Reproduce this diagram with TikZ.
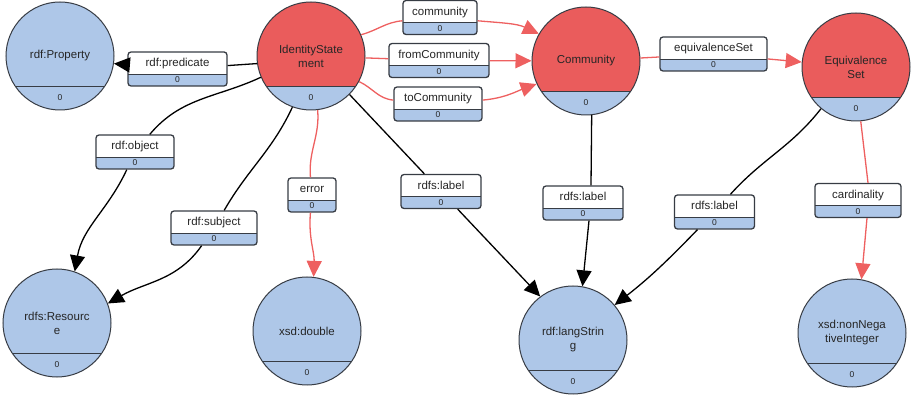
\documentclass[tikz,border=0pt]{standalone}
\usepackage{fontspec}
\setmainfont{Liberation Sans}
\usetikzlibrary{arrows.meta}
\definecolor{classred}{RGB}{234,92,92}
\definecolor{countblue}{RGB}{174,199,232}
\definecolor{linkred}{RGB}{238,96,96}
\definecolor{rim}{RGB}{55,60,68}

\tikzset{
  cls/.style={circle, draw=rim, line width=1pt, fill=#1, minimum size=108pt, inner sep=0pt,
    align=center, text=black!85, font=\fontsize{11.5}{14}\selectfont,
    path picture={
      \fill[countblue, sharp corners] ([shift={(-60pt,-30pt)}]path picture bounding box.center) rectangle ([shift={(60pt,-60pt)}]path picture bounding box.center);
      \draw[rim, line width=0.6pt] ([shift={(-60pt,-30pt)}]path picture bounding box.center) -- ([shift={(60pt,-30pt)}]path picture bounding box.center);
      \node[font=\fontsize{8.5}{10}\selectfont] at ([yshift=-42pt]path picture bounding box.center) {0};}},
  cls/.default=countblue,
  prop/.style={rectangle, rounded corners=3pt, draw=rim, line width=1.3pt, fill=white,
    inner xsep=0pt, inner ysep=0pt, text height=15pt, text depth=19pt, minimum width=#1,
    text=black!85, font=\fontsize{11.5}{14}\selectfont,
    path picture={
      \fill[countblue, sharp corners] (path picture bounding box.south west) rectangle ([yshift=12pt]path picture bounding box.south east);
      \draw[rim, line width=0.8pt] ([yshift=12pt]path picture bounding box.south west) -- ([yshift=12pt]path picture bounding box.south east);
      \node[text height=, text depth=, inner sep=0pt, minimum width=0pt, font=\fontsize{8.5}{10}\selectfont] at ([yshift=6pt]path picture bounding box.south) {0};}},
  link/.style={draw=black, line width=1.3pt},
  redlink/.style={draw=linkred, line width=1.3pt},
  arrowhead/.style={-{Triangle[length=16pt,width=15pt]}}
}

\begin{document}
\begin{tikzpicture}[x=1pt, y=1pt]
\useasboundingbox (0,0) rectangle (911,-395);

\node[cls] (Prop) at (60,-56) {rdf:Property};
\node[cls=classred] (IS) at (311,-56) {IdentityState\\ment};
\node[cls=classred] (Comm) at (586,-61) {Community};
\node[cls=classred] (Equiv) at (856,-67) {Equivalence\\Set};
\node[cls] (Res) at (57,-323) {rdfs:Resourc\\e};
\node[cls] (Dbl) at (307,-331) {xsd:double};
\node[cls] (Lang) at (573,-340) {rdf:langStrin\\g};
\node[cls] (NN) at (852,-333) {xsd:nonNega\\tiveInteger};

\node[prop=99pt] (lpred) at (177.5,-69) {rdf:predicate};
\node[prop=74pt] (lcomm) at (440,-17.5) {community};
\node[prop=100pt] (lfrom) at (439,-60.5) {fromCommunity};
\node[prop=88pt] (lto) at (438,-104) {toCommunity};
\node[prop=107pt] (leq) at (713.5,-54) {equivalenceSet};
\node[prop=78pt] (lobj) at (135,-152) {rdf:object};
\node[prop=86pt] (lsub) at (214,-228) {rdf:subject};
\node[prop=48pt] (lerr) at (312,-195) {error};
\node[prop=80pt] (ll1) at (441,-191.5) {rdfs:label};
\node[prop=80pt] (ll2) at (583,-203) {rdfs:label};
\node[prop=80pt] (ll3) at (714.5,-212) {rdfs:label};
\node[prop=86pt] (lcard) at (858,-200.5) {cardinality};

\draw[link] (IS.188) -- (lpred);
\draw[link, arrowhead] (lpred) -- (Prop.352);
\draw[redlink] (IS.23) to[out=15, in=185] (lcomm);
\draw[redlink, arrowhead] (lcomm) to[out=-5, in=155] (Comm.150);
\draw[redlink] (IS) -- (lfrom);
\draw[redlink, arrowhead] (lfrom) -- (Comm);
\draw[redlink] (IS.-28) to[out=-25, in=175] (lto);
\draw[redlink, arrowhead] (lto) to[out=5, in=200] (Comm.205);
\draw[redlink] (Comm) -- (leq);
\draw[redlink, arrowhead] (leq) -- (Equiv);
\draw[link] (IS.203) to[out=205, in=50] (lobj);
\draw[link, arrowhead] (lobj) to[out=245, in=80] (Res.71);
\draw[link] (IS.250) to[out=245, in=60] (lsub);
\draw[link, arrowhead] (lsub) to[out=235, in=30] (Res.21);
\draw[redlink] (IS.-83) to[out=-85, in=95] (lerr);
\draw[redlink, arrowhead] (lerr) to[out=-95, in=88] (Dbl.83);
\draw[link] (IS.-45) -- (ll1);
\draw[link, arrowhead] (ll1) -- (Lang.127);
\draw[link] (Comm.-84) -- ([xshift=8pt]ll2.north);
\draw[link, arrowhead] ([xshift=6pt]ll2.south) -- (Lang.80);
\draw[link] (Equiv.230) to[out=232, in=48] (ll3);
\draw[link, arrowhead] (ll3) to[out=226, in=38] (Lang.40);
\draw[redlink] (Equiv.-85) -- ([xshift=10pt]lcard.north);
\draw[redlink, arrowhead] ([xshift=9pt]lcard.south) -- (NN.80);
\end{tikzpicture}
\end{document}
